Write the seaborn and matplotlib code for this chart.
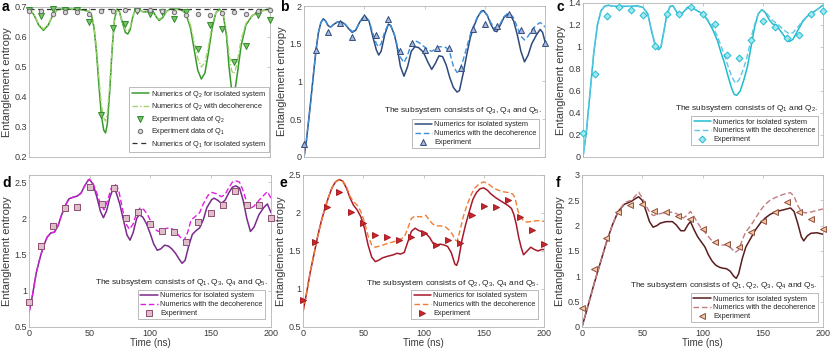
import numpy as np
import pandas as pd
import matplotlib
matplotlib.use("Agg")
import matplotlib.pyplot as plt
import seaborn as sns
from matplotlib.ticker import FormatStrFormatter

# ---------------- data ----------------
t_exp = [0, 10, 20, 30, 40, 50, 60, 70, 80, 90, 100, 110, 120, 130, 140, 150, 160, 170, 180, 190, 200]

# panel a
a_q1_exp = [0.687, 0.687, 0.678, 0.683, 0.683, 0.676, 0.687, 0.687, 0.689, 0.689, 0.691, 0.687, 0.683,
            0.672, 0.676, 0.672, 0.680, 0.683, 0.678, 0.687, 0.690]
a_q2_exp = [0.690, 0.669, 0.694, 0.690, 0.690, 0.650, 0.339, 0.631, 0.642, 0.688, 0.676, 0.684, 0.661,
            0.684, 0.561, 0.639, 0.626, 0.517, 0.569, 0.672, 0.658]
a_q1_iso = [(0, 0.693), (200, 0.693)]
a_q2_iso = [(0, 0.693), (4, 0.675), (8, 0.640), (12, 0.622), (16, 0.640), (20, 0.675), (24, 0.692), (30, 0.693),
            (40, 0.692), (45, 0.690), (50, 0.685), (52, 0.670), (54, 0.630), (56, 0.550), (58, 0.440),
            (60, 0.340), (62, 0.290), (63.5, 0.280), (65, 0.310), (67, 0.420), (69, 0.560), (71, 0.660),
            (73, 0.693), (75, 0.685), (77, 0.655), (80, 0.615), (82, 0.610), (84, 0.625), (86, 0.665),
            (88, 0.690), (91, 0.693), (95, 0.683), (98, 0.685), (100, 0.690), (103, 0.685), (106, 0.665),
            (108, 0.655), (111, 0.665), (114, 0.685), (117, 0.693), (125, 0.693), (130, 0.680), (134, 0.630),
            (137, 0.560), (140, 0.490), (143, 0.460), (146, 0.480), (149, 0.550), (152, 0.630), (155, 0.680),
            (158, 0.693), (161, 0.680), (164, 0.600), (166, 0.500), (168, 0.430), (169.5, 0.415), (171, 0.425),
            (173, 0.480), (176, 0.570), (180, 0.640), (185, 0.670), (190, 0.683), (195, 0.690), (200, 0.693)]
a_q2_dec = [(0, 0.693), (4, 0.676), (8, 0.643), (12, 0.626), (16, 0.643), (20, 0.676), (24, 0.691), (30, 0.692),
            (40, 0.691), (45, 0.689), (50, 0.685), (52, 0.672), (54, 0.635), (56, 0.565), (58, 0.465),
            (60, 0.375), (62, 0.330), (63.5, 0.320), (65, 0.345), (67, 0.440), (69, 0.570), (71, 0.662),
            (73, 0.690), (75, 0.684), (77, 0.657), (80, 0.624), (82, 0.620), (84, 0.632), (86, 0.667),
            (88, 0.688), (91, 0.691), (95, 0.683), (98, 0.685), (100, 0.689), (103, 0.685), (106, 0.667),
            (108, 0.659), (111, 0.667), (114, 0.684), (117, 0.691), (125, 0.691), (130, 0.680), (134, 0.640),
            (137, 0.585), (140, 0.530), (143, 0.500), (146, 0.515), (149, 0.570), (152, 0.640), (155, 0.680),
            (158, 0.690), (161, 0.680), (164, 0.615), (166, 0.545), (168, 0.490), (169.5, 0.477), (171, 0.485),
            (173, 0.520), (176, 0.590), (180, 0.645), (185, 0.670), (190, 0.682), (195, 0.688), (200, 0.691)]

# panel b
b_exp = [0.175, 1.42, 1.66, 1.78, 1.59, 1.85, 1.61, 1.83, 1.41, 1.51, 1.42, 1.45, 1.45, 1.18, 1.69, 1.76,
         1.74, 1.89, 1.68, 1.68, 1.51]
b_iso = [(0, 0.0), (2, 0.22), (5, 0.65), (8, 1.12), (10, 1.42), (12, 1.65), (14, 1.78), (16, 1.83), (18, 1.80),
         (20, 1.74), (22, 1.72), (25, 1.76), (28, 1.79), (31, 1.79), (34, 1.76), (37, 1.70), (40, 1.65),
         (43, 1.68), (46, 1.78), (49, 1.85), (51, 1.86), (54, 1.80), (57, 1.60), (60, 1.42), (62, 1.35),
         (64, 1.40), (67, 1.62), (70, 1.76), (72, 1.74), (75, 1.62), (77, 1.48), (80, 1.20), (83, 1.07),
         (86, 1.20), (89, 1.40), (92, 1.46), (95, 1.45), (99, 1.39), (103, 1.25), (106, 1.16), (109, 1.24),
         (112, 1.34), (115, 1.33), (118, 1.22), (121, 1.05), (124, 0.92), (127, 0.86), (129, 0.88),
         (132, 1.10), (135, 1.35), (138, 1.58), (141, 1.73), (144, 1.85), (147, 1.93), (149, 1.94),
         (152, 1.88), (155, 1.76), (158, 1.67), (160, 1.66), (163, 1.75), (166, 1.85), (169, 1.89),
         (172, 1.86), (174, 1.80), (177, 1.62), (180, 1.40), (183, 1.26), (186, 1.35), (189, 1.50),
         (193, 1.62), (196, 1.69), (198, 1.65), (200, 1.53)]
b_dec = [(0, 0.0), (2, 0.22), (5, 0.65), (8, 1.12), (10, 1.42), (12, 1.65), (14, 1.78), (16, 1.83), (18, 1.80),
         (20, 1.74), (22, 1.72), (25, 1.76), (28, 1.79), (31, 1.79), (34, 1.76), (37, 1.71), (40, 1.66),
         (43, 1.69), (46, 1.78), (49, 1.84), (51, 1.85), (54, 1.80), (57, 1.65), (60, 1.50), (62, 1.46),
         (64, 1.50), (67, 1.66), (70, 1.76), (72, 1.74), (75, 1.62), (77, 1.50), (80, 1.32), (83, 1.25),
         (86, 1.35), (89, 1.50), (92, 1.54), (95, 1.52), (99, 1.47), (103, 1.42), (106, 1.40), (109, 1.43),
         (112, 1.46), (115, 1.46), (118, 1.45), (121, 1.38), (124, 1.20), (127, 1.12), (129, 1.14),
         (132, 1.28), (135, 1.45), (138, 1.62), (141, 1.75), (144, 1.86), (147, 1.92), (149, 1.93),
         (152, 1.88), (155, 1.78), (158, 1.71), (160, 1.70), (163, 1.77), (166, 1.86), (169, 1.90),
         (172, 1.88), (174, 1.84), (177, 1.72), (180, 1.60), (183, 1.55), (186, 1.60), (189, 1.68),
         (193, 1.75), (196, 1.78), (198, 1.76), (200, 1.72)]

# panel c
c_exp = [0.22, 0.75, 1.28, 1.36, 1.34, 1.29, 1.01, 1.30, 1.30, 1.36, 1.30, 1.21, 0.93, 0.90, 1.06, 1.24,
         1.18, 1.08, 1.11, 1.30, 1.33]
c_iso = [(0, 0.0), (3, 0.25), (6, 0.60), (9, 0.95), (12, 1.20), (15, 1.33), (18, 1.37), (21, 1.38), (25, 1.37),
         (30, 1.37), (35, 1.37), (40, 1.37), (45, 1.375), (50, 1.36), (54, 1.30), (57, 1.15), (60, 1.02),
         (63, 0.975), (65, 1.00), (67, 1.12), (70, 1.30), (72.5, 1.37), (75, 1.375), (78, 1.32), (80, 1.29),
         (83, 1.31), (87, 1.36), (90, 1.365), (95, 1.33), (100, 1.30), (104, 1.24), (108, 1.16), (112, 1.06),
         (115, 0.95), (118, 0.85), (121, 0.73), (124, 0.62), (126, 0.57), (128, 0.56), (131, 0.60),
         (134, 0.70), (137, 0.82), (140, 1.00), (143, 1.18), (146, 1.30), (149, 1.34), (152, 1.31),
         (155, 1.25), (158, 1.21), (161, 1.20), (165, 1.14), (169, 1.08), (172, 1.05), (175, 1.07),
         (179, 1.15), (183, 1.23), (187, 1.28), (191, 1.31), (195, 1.34), (200, 1.38)]
c_dec = [(0, 0.0), (3, 0.25), (6, 0.60), (9, 0.95), (12, 1.20), (15, 1.33), (18, 1.37), (21, 1.38), (25, 1.37),
         (30, 1.37), (35, 1.37), (40, 1.37), (45, 1.37), (50, 1.36), (54, 1.30), (57, 1.16), (60, 1.03),
         (63, 0.985), (65, 1.01), (67, 1.12), (70, 1.30), (72.5, 1.36), (75, 1.37), (78, 1.32), (80, 1.30),
         (83, 1.31), (87, 1.35), (90, 1.36), (95, 1.33), (100, 1.30), (104, 1.25), (108, 1.18), (112, 1.10),
         (115, 1.01), (118, 0.92), (121, 0.82), (124, 0.73), (127, 0.67), (130, 0.70), (133, 0.78),
         (136, 0.88), (139, 1.02), (142, 1.17), (146, 1.30), (149, 1.34), (152, 1.32), (155, 1.28),
         (158, 1.24), (161, 1.22), (165, 1.18), (169, 1.14), (172, 1.12), (175, 1.13), (179, 1.18),
         (183, 1.24), (187, 1.28), (191, 1.31), (195, 1.34), (200, 1.37)]

# panel d
d_exp = [0.85, 1.62, 1.90, 2.14, 2.16, 2.43, 2.20, 2.42, 2.01, 2.09, 1.92, 1.82, 1.81, 1.68, 1.95, 2.08,
         2.18, 2.38, 2.18, 2.18, 2.01]
d_iso = [(0, 0.70), (3, 0.95), (6, 1.25), (9, 1.45), (12, 1.62), (15, 1.74), (18, 1.80), (21, 1.81),
         (24, 1.90), (27, 2.05), (30, 2.18), (33, 2.27), (36, 2.29), (40, 2.31), (43, 2.35), (46, 2.45),
         (49, 2.53), (50, 2.54), (53, 2.47), (56, 2.30), (59, 2.10), (61.5, 2.01), (64, 2.10), (67, 2.30),
         (69.5, 2.41), (72, 2.36), (75, 2.20), (78, 1.98), (81, 1.77), (83.5, 1.70), (86, 1.80), (89, 2.00),
         (91, 2.05), (94, 2.02), (97, 1.93), (100, 1.80), (103, 1.65), (106, 1.56), (109, 1.58), (112, 1.63),
         (115, 1.62), (118, 1.58), (121, 1.52), (124, 1.44), (126.5, 1.38), (129, 1.42), (132, 1.62),
         (135, 1.78), (138, 1.83), (141, 1.87), (144, 1.98), (147, 2.15), (151, 2.26), (153, 2.28),
         (156, 2.25), (159, 2.21), (162, 2.25), (165, 2.35), (168, 2.43), (171, 2.45), (174, 2.42),
         (177, 2.25), (180, 2.00), (183, 1.82), (186, 1.88), (190, 2.05), (194, 2.15), (197, 2.20),
         (200, 2.08)]
d_dec = [(0, 0.70), (3, 0.95), (6, 1.25), (9, 1.45), (12, 1.62), (15, 1.74), (18, 1.80), (21, 1.81),
         (24, 1.90), (27, 2.05), (30, 2.18), (33, 2.27), (36, 2.29), (40, 2.31), (43, 2.35), (46, 2.45),
         (49, 2.53), (50, 2.54), (53, 2.48), (56, 2.35), (59, 2.20), (62, 2.12), (65, 2.25), (68, 2.42),
         (71, 2.48), (74, 2.40), (77, 2.15), (80, 1.93), (83, 1.85), (86, 1.92), (89, 2.08), (92, 2.15),
         (95, 2.12), (98, 2.05), (101, 1.95), (104, 1.85), (107, 1.82), (110, 1.84), (113, 1.86),
         (116, 1.87), (119, 1.85), (122, 1.80), (125, 1.74), (128, 1.69), (131, 1.80), (134, 1.98),
         (137, 2.02), (141, 2.08), (144, 2.20), (148, 2.32), (151, 2.36), (155, 2.34), (159, 2.30),
         (162, 2.33), (165, 2.42), (168, 2.50), (171, 2.52), (174, 2.50), (177, 2.38), (180, 2.22),
         (183, 2.14), (186, 2.17), (190, 2.25), (194, 2.32), (197, 2.37), (200, 2.28)]

# panel e
e_exp = [0.85, 1.62, 2.08, 2.27, 2.01, 1.87, 1.71, 1.68, 1.65, 1.68, 1.74, 1.58, 1.64, 1.61, 1.97, 2.09,
         2.08, 2.17, 1.95, 1.78, 1.59]
e_iso = [(0, 0.70), (3, 0.95), (6, 1.22), (9, 1.45), (12, 1.68), (15, 1.88), (18, 2.05), (21, 2.20),
         (24, 2.33), (27, 2.41), (30, 2.44), (33, 2.42), (36, 2.33), (39, 2.20), (42, 2.10), (45, 2.04),
         (48, 1.95), (51, 1.80), (54, 1.58), (57, 1.42), (60, 1.36), (63, 1.38), (66, 1.41), (70, 1.43),
         (75, 1.45), (78, 1.47), (81, 1.46), (84, 1.48), (87, 1.62), (90, 1.76), (93, 1.80), (96, 1.77),
         (99, 1.75), (102, 1.73), (105, 1.68), (108, 1.60), (111, 1.58), (114, 1.59), (117, 1.58),
         (120, 1.56), (123, 1.48), (126, 1.33), (127.5, 1.31), (129, 1.38), (132, 1.65), (135, 1.85),
         (138, 2.02), (141, 2.18), (144, 2.27), (147, 2.32), (150, 2.33), (153, 2.30), (156, 2.25),
         (160, 2.20), (165, 2.15), (170, 2.10), (173, 2.06), (175, 1.98), (177, 1.85), (179, 1.68),
         (181, 1.55), (183, 1.45), (186, 1.50), (189, 1.55), (192, 1.52), (195, 1.50), (198, 1.52),
         (200, 1.52)]
e_dec = [(0, 0.70), (3, 0.95), (6, 1.22), (9, 1.45), (12, 1.68), (15, 1.88), (18, 2.05), (21, 2.20),
         (24, 2.33), (27, 2.41), (30, 2.44), (33, 2.42), (36, 2.35), (39, 2.22), (42, 2.15), (45, 2.10),
         (48, 2.02), (51, 1.88), (54, 1.70), (57, 1.58), (60, 1.55), (65, 1.57), (70, 1.60), (75, 1.62),
         (80, 1.65), (84, 1.68), (87, 1.80), (90, 1.93), (93, 1.96), (96, 1.95), (99, 1.95), (102, 1.97),
         (105, 1.90), (108, 1.85), (111, 1.83), (114, 1.83), (118, 1.82), (121, 1.78), (124, 1.72),
         (126, 1.65), (128, 1.63), (130, 1.75), (133, 1.95), (136, 2.10), (139, 2.22), (142, 2.32),
         (146, 2.38), (150, 2.41), (154, 2.38), (158, 2.33), (162, 2.30), (166, 2.28), (170, 2.27),
         (174, 2.25), (176, 2.20), (178, 2.05), (180, 1.95), (183, 1.90), (186, 1.88), (190, 1.89),
         (195, 1.90), (200, 1.89)]

# panel f
f_exp = [0.38, 1.14, 1.75, 2.26, 2.41, 2.43, 2.28, 2.27, 2.20, 2.13, 1.93, 1.67, 1.63, 1.57, 1.87, 2.10,
         2.26, 2.46, 2.26, 2.14, 1.93]
f_iso = [(0, 0.0), (5, 0.42), (10, 0.85), (15, 1.25), (20, 1.65), (25, 2.00), (30, 2.28), (35, 2.42),
         (38, 2.45), (41, 2.48), (44, 2.53), (47, 2.57), (50, 2.50), (53, 2.30), (56, 2.08), (59, 1.97),
         (62, 2.00), (65, 2.05), (70, 2.08), (75, 2.08), (78, 2.02), (82, 1.90), (85, 1.90), (88, 2.02),
         (90, 2.08), (93, 1.92), (96, 1.78), (99, 1.68), (102, 1.58), (105, 1.42), (108, 1.30), (111, 1.22),
         (114, 1.18), (117, 1.16), (120, 1.15), (123, 1.10), (126, 1.00), (128, 0.96), (130, 1.05),
         (133, 1.35), (136, 1.58), (140, 1.75), (144, 1.92), (148, 2.05), (152, 2.15), (156, 2.22),
         (160, 2.27), (165, 2.30), (170, 2.33), (173, 2.35), (176, 2.28), (179, 2.05), (182, 1.78),
         (184, 1.70), (187, 1.80), (190, 1.85), (195, 1.86), (200, 1.83)]
f_dec = [(0, 0.0), (5, 0.42), (10, 0.85), (15, 1.25), (20, 1.65), (25, 2.00), (30, 2.28), (35, 2.44),
         (38, 2.48), (41, 2.50), (44, 2.58), (47, 2.66), (50, 2.55), (53, 2.40), (56, 2.27), (59, 2.20),
         (62, 2.22), (67, 2.25), (72, 2.27), (76, 2.26), (80, 2.22), (84, 2.15), (87, 2.20), (90, 2.28),
         (93, 2.18), (96, 2.05), (99, 1.95), (102, 1.87), (105, 1.78), (108, 1.70), (112, 1.64), (116, 1.62),
         (120, 1.62), (124, 1.55), (127, 1.47), (130, 1.52), (133, 1.72), (136, 1.88), (140, 2.00),
         (144, 2.15), (148, 2.30), (152, 2.42), (156, 2.50), (160, 2.55), (165, 2.60), (170, 2.64),
         (173, 2.65), (176, 2.58), (179, 2.40), (182, 2.28), (185, 2.25), (190, 2.27), (195, 2.30),
         (200, 2.33)]

x_ticks = [0, 50, 100, 150, 200]

# ---------------- style ----------------
sns.set_theme(style="white")
plt.rcParams['font.family'] = ['Liberation Sans', 'DejaVu Sans']
plt.rcParams['mathtext.fontset'] = 'custom'
plt.rcParams['mathtext.rm'] = 'Liberation Sans'
plt.rcParams['mathtext.it'] = 'Liberation Sans:italic'

W, H = 830, 348
fig = plt.figure(figsize=(W / 100, H / 100), dpi=100)


def add_ax(l, t, r, b):
    return fig.add_axes([l / W, 1 - b / H, (r - l) / W, (b - t) / H])


SP = '#b4b4b4'
TXT = '#3a3a3a'


def style(ax, ylim, yticks, bottom_labels):
    ax.set_xlim(0, 200)
    ax.set_ylim(*ylim)
    ax.set_xticks(x_ticks)
    ax.set_yticks(yticks)
    ax.yaxis.set_major_formatter(FormatStrFormatter('%g'))
    for s in ax.spines.values():
        s.set_color(SP)
        s.set_linewidth(0.6)
    ax.tick_params(direction='in', length=2.5, width=0.5, color=SP, labelcolor=TXT,
                   labelsize=6.5, top=True, right=True, pad=1.5, labelbottom=bottom_labels)
    ax.set_ylabel('Entanglement entropy', fontsize=8, color=TXT, labelpad=2)
    if bottom_labels:
        ax.set_xlabel('Time (ns)', fontsize=7, color=TXT, labelpad=0)
    else:
        ax.set_xlabel('')


def line(ax, pts, color, ls, label, lw=1.0):
    df = pd.DataFrame(pts, columns=['t', 'v'])
    sns.lineplot(data=df, x='t', y='v', ax=ax, color=color, linestyle=ls, linewidth=lw,
                 label=label, sort=False, estimator=None)


def pts(ax, vals, marker, face, edge, label, s=16):
    df = pd.DataFrame({'t': t_exp, 'v': vals})
    sns.scatterplot(data=df, x='t', y='v', ax=ax, marker=marker, color=face, edgecolor=edge,
                    linewidth=0.7, s=s, label=label, zorder=5, clip_on=False)


def legend(ax, x, y):
    lg = ax.legend(loc='lower right', bbox_to_anchor=(x, y), fontsize=5.3, frameon=True,
                   fancybox=False, edgecolor='#a0a0a0', framealpha=1, borderpad=0.3,
                   labelspacing=0.2, handlelength=2.4, handletextpad=0.3, borderaxespad=0)
    lg.get_frame().set_linewidth(0.5)
    lg.set_zorder(10)


def note(ax, x, y, s):
    ax.text(x, y, s, transform=ax.transAxes, ha='right', va='center', fontsize=6, color='#222222')


def panel_letter(px, py, s):
    fig.text(px / W, 1 - py / H, s, fontsize=10, fontweight='bold', ha='left', va='center', color='black')


# ---- a ----
ax = add_ax(29, 7, 270, 157)
line(ax, a_q2_iso, '#379a2c', '-', 'Numerics of Q$_2$ for isolated system', 1.1)
line(ax, a_q2_dec, '#a3d36e', (0, (4, 1.5, 1, 1.5)), 'Numerics of Q$_2$ with decoherence', 1.0)
pts(ax, a_q2_exp, 'v', '#7cc36a', '#2f8a2a', 'Experiment data of Q$_2$', 18)
pts(ax, a_q1_exp, 'o', '#d4d4d4', '#6e6e6e', 'Experiment data of Q$_1$', 10)
line(ax, a_q1_iso, '#303030', (0, (4, 3)), 'Numerics of Q$_1$ for isolated system', 0.9)
style(ax, (0.2, 0.7), [0.2, 0.3, 0.4, 0.5, 0.6, 0.7], False)
legend(ax, 0.996, 0.033)
panel_letter(2, 7, 'a')

# ---- b ----
ax = add_ax(304, 6, 545, 157)
line(ax, b_iso, '#2d4a7e', '-', 'Numerics for isolated system', 1.1)
line(ax, b_dec, '#3a90dc', (0, (4, 2)), 'Numerics with the decoherence', 1.0)
pts(ax, b_exp, '^', '#aab9da', '#2d4a7e', 'Experiment', 18)
style(ax, (0, 2), [0, 0.5, 1, 1.5, 2], False)
legend(ax, 0.975, 0.06)
note(ax, 0.988, 0.31, 'The subsystem consists of Q$_3$, Q$_4$ and Q$_5$.')
panel_letter(280, 7, 'b')

# ---- c ----
ax = add_ax(583, 3, 823, 157)
line(ax, c_iso, '#1fbccf', '-', 'Numerics for isolated system', 1.1)
line(ax, c_dec, '#5cc6e4', (0, (4, 2)), 'Numerics with the decoherence', 1.0)
pts(ax, c_exp, 'D', '#a4e6ef', '#1fbccf', 'Experiment', 12)
style(ax, (0, 1.4), [0, 0.2, 0.4, 0.6, 0.8, 1, 1.2, 1.4], False)
legend(ax, 0.979, 0.078)
note(ax, 0.979, 0.318, 'The subsystem consists of Q$_1$ and Q$_2$.')
panel_letter(556, 7, 'c')

# ---- d ----
ax = add_ax(29, 175, 271, 327)
line(ax, d_iso, '#7a2a8c', '-', 'Numerics for isolated system', 1.1)
line(ax, d_dec, '#e01ee0', (0, (4, 2)), 'Numerics with the decoherence', 1.0)
pts(ax, d_exp, 's', '#dcbfca', '#8e4f72', 'Experiment', 13)
style(ax, (0.5, 2.6), [0.5, 1, 1.5, 2, 2.5], True)
legend(ax, 0.975, 0.053)
note(ax, 0.988, 0.296, 'The subsystem consists of Q$_1$, Q$_3$, Q$_4$ and Q$_5$.')
panel_letter(2, 183, 'd')

# ---- e ----
ax = add_ax(303, 175, 544, 327)
line(ax, e_iso, '#a8192b', '-', 'Numerics for isolated system', 1.1)
line(ax, e_dec, '#f07d32', (0, (4, 2)), 'Numerics with the decoherence', 1.0)
pts(ax, e_exp, '>', '#c9272d', '#a51c22', 'Experiment', 18)
style(ax, (0.5, 2.5), [0.5, 1, 1.5, 2, 2.5], True)
legend(ax, 0.975, 0.053)
note(ax, 0.979, 0.289, 'The subsystem consists of Q$_2$, Q$_3$, Q$_4$ and Q$_5$.')
panel_letter(279, 183, 'e')

# ---- f ----
ax = add_ax(582, 175, 823, 327)
line(ax, f_iso, '#5a1c1f', '-', 'Numerics for isolated system', 1.1)
line(ax, f_dec, '#c27c80', (0, (4, 2)), 'Numerics with the decoherence', 1.0)
pts(ax, f_exp, '<', '#f2cba0', '#8d4d3e', 'Experiment', 18)
style(ax, (0, 3), [0, 0.5, 1, 1.5, 2, 2.5, 3], True)
legend(ax, 0.979, 0.033)
note(ax, 0.975, 0.276, 'The subsystem consists of Q$_1$, Q$_2$, Q$_3$, Q$_4$ and Q$_5$.')
panel_letter(556, 183, 'f')

fig.savefig('out.png', dpi=100)
